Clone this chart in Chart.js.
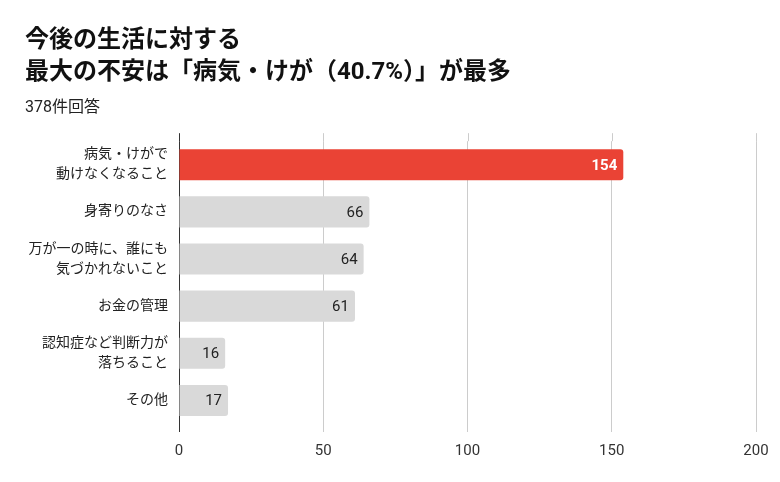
<!DOCTYPE html>
<html lang="ja">
<head>
<meta charset="utf-8">
<title>今後の生活に対する最大の不安</title>
<script src="https://cdn.jsdelivr.net/npm/chart.js@4.4.1/dist/chart.umd.min.js"></script>
<style>
  html, body { margin: 0; padding: 0; background: #fff; }
  #wrap { width: 780px; height: 482px; }
</style>
</head>
<body>
<div id="wrap"><canvas id="chart" width="780" height="482"></canvas></div>
<script>
/* bar chart: biggest worries about later life */

const titleLines = ['今後の生活に対する', '最大の不安は「病気・けが（40.7%）」が最多'];
const subtitleText = '378件回答';

const categories = [
  ['病気・けがで', '動けなくなること'],
  '身寄りのなさ',
  ['万が一の時に、誰にも', '気づかれないこと'],
  'お金の管理',
  ['認知症など判断力が', '落ちること'],
  'その他',
];
const counts = [154, 66, 64, 61, 16, 17];
const xTicks = [0, 50, 100, 150, 200];

const FONT = "Roboto, 'Noto Sans CJK JP', 'Noto Sans', sans-serif";
const RED = '#ea4335';
const GRAY = '#d9d9d9';

// value labels at the inner end of each bar
const valueLabels = {
  id: 'valueLabels',
  afterDatasetsDraw(chart) {
    const { ctx } = chart;
    const meta = chart.getDatasetMeta(0);
    ctx.save();
    ctx.textAlign = 'right';
    ctx.textBaseline = 'middle';
    meta.data.forEach((bar, i) => {
      const top = i === 0;
      ctx.font = (top ? 'bold ' : '') + '15px ' + FONT;
      ctx.fillStyle = top ? '#ffffff' : '#222222';
      ctx.fillText(String(counts[i]), bar.x - 6, bar.y + 1);
    });
    ctx.restore();
  }
};

// grid lines run a little above the plot area, like the original
const gridExtend = {
  id: 'gridExtend',
  beforeDatasetsDraw(chart) {
    const { ctx, chartArea } = chart;
    const xs = chart.scales.x;
    ctx.save();
    ctx.lineWidth = 1;
    xs.ticks.forEach((t, i) => {
      const x = Math.round(xs.getPixelForTick(i)) + 0.5;
      ctx.strokeStyle = t.value === 0 ? '#333333' : '#cccccc';
      ctx.beginPath();
      ctx.moveTo(x, chartArea.top - 8);
      ctx.lineTo(x, chartArea.top);
      ctx.stroke();
    });
    ctx.restore();
  }
};

new Chart(document.getElementById('chart'), {
  type: 'bar',
  data: {
    labels: categories,
    datasets: [{
      data: counts,
      backgroundColor: c => c.dataIndex === 0 ? RED : GRAY,
      borderRadius: 3,
      borderSkipped: 'start',
      categoryPercentage: 0.66,
      barPercentage: 1,
    }],
  },
  options: {
    indexAxis: 'y',
    responsive: false,
    animation: false,
    layout: { padding: { left: 25, right: 24, top: 0, bottom: 12 } },
    plugins: {
      legend: { display: false },
      tooltip: { enabled: false },
      title: {
        display: true,
        text: titleLines,
        align: 'start',
        color: '#111111',
        font: { family: FONT, size: 24, weight: 'bold', lineHeight: 1.333 },
        padding: { top: 25, bottom: 0 },
      },
      subtitle: {
        display: true,
        text: subtitleText,
        align: 'start',
        color: '#222222',
        font: { family: FONT, size: 16, lineHeight: 1.2 },
        padding: { top: 9, bottom: 24 },
      },
    },
    scales: {
      x: {
        min: 0,
        max: 200,
        afterBuildTicks: s => { s.ticks = xTicks.map(v => ({ value: v })); },
        grid: {
          color: c => c.tick && c.tick.value === 0 ? '#333333' : '#cccccc',
          tickLength: 8,
        },
        border: { display: false },
        ticks: {
          padding: 10,
          color: '#333333',
          font: { family: FONT, size: 15, lineHeight: 1.2 },
        },
      },
      y: {
        grid: { display: false, drawTicks: false },
        border: { display: false },
        afterFit: s => { s.width = 154; },
        ticks: {
          padding: 11,
          color: '#222222',
          font: { family: FONT, size: 14, lineHeight: 1.43 },
        },
      },
    },
  },
  plugins: [gridExtend, valueLabels],
});
</script>
</body>
</html>
